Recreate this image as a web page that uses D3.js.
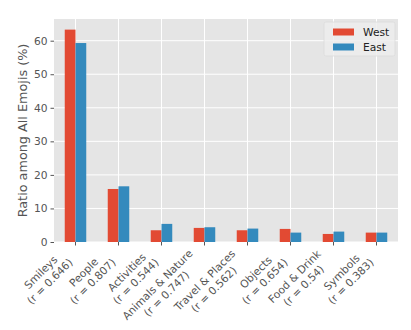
<html>

<head>
    <meta charset="utf-8">
    <style>
        body { margin: 0; background: #fff; }
        text { font-family: "DejaVu Sans", sans-serif; fill: #555; }
    </style>
</head>

<body>
    <script src="https://cdn.jsdelivr.net/npm/d3@7"></script>
    <script>
        var categories = ["Smileys", "People", "Activities", "Animals & Nature",
            "Travel & Places", "Objects", "Food & Drink", "Symbols"];
        var rValues = ["0.646", "0.807", "0.544", "0.747", "0.562", "0.654", "0.54", "0.383"];
        var seriesNames = ["West", "East"];
        var west = [63.3, 15.8, 3.5, 4.2, 3.5, 3.9, 2.4, 2.8];
        var east = [59.3, 16.6, 5.4, 4.4, 4.0, 2.8, 3.1, 2.8];
        var yTicks = [0, 10, 20, 30, 40, 50, 60];

        var width = 411,
            height = 330,
            margin = { top: 19, right: 13, bottom: 88, left: 54 },
            colors = ["#E24A33", "#348ABD"],
            tickFont = 10.7,
            labelFont = 12.8;

        var series = [west, east];

        var svg = d3.select("body").append("svg")
            .attr("width", width)
            .attr("height", height);

        var plotW = width - margin.left - margin.right,
            plotH = height - margin.top - margin.bottom;

        var g = svg.append("g")
            .attr("transform", "translate(" + margin.left + "," + margin.top + ")");

        // pandas-style bar layout: one slot per category, bars fill half the slot
        var x = d3.scaleBand()
            .domain(categories)
            .range([0, plotW]);

        var x1 = d3.scaleBand()
            .domain(seriesNames)
            .range([x.bandwidth() * 0.25, x.bandwidth() * 0.75]);

        var yMax = d3.max(west.concat(east)) * 1.05;
        var y = d3.scaleLinear()
            .domain([0, yMax])
            .range([plotH, 0]);

        g.append("rect")
            .attr("width", plotW)
            .attr("height", plotH)
            .attr("fill", "#E5E5E5");

        // grid
        g.selectAll(".hgrid")
            .data(yTicks)
            .enter().append("line")
            .attr("x1", 0)
            .attr("x2", plotW)
            .attr("y1", function(d) { return y(d); })
            .attr("y2", function(d) { return y(d); })
            .attr("stroke", "#fff")
            .attr("stroke-width", 1);

        g.selectAll(".vgrid")
            .data(categories)
            .enter().append("line")
            .attr("x1", function(d) { return x(d) + x.bandwidth() / 2; })
            .attr("x2", function(d) { return x(d) + x.bandwidth() / 2; })
            .attr("y1", 0)
            .attr("y2", plotH)
            .attr("stroke", "#fff")
            .attr("stroke-width", 1);

        // bars
        seriesNames.forEach(function(name, si) {
            g.selectAll(".bar-" + name)
                .data(series[si])
                .enter().append("rect")
                .attr("x", function(d, i) { return x(categories[i]) + x1(name); })
                .attr("y", function(d) { return y(d); })
                .attr("width", x1.bandwidth())
                .attr("height", function(d) { return plotH - y(d); })
                .attr("fill", colors[si]);
        });

        // y axis
        var yAxis = g.append("g")
            .call(d3.axisLeft(y).tickValues(yTicks).tickSize(3.5).tickPadding(3));
        yAxis.select(".domain").remove();
        yAxis.selectAll("line").attr("stroke", "#555");
        yAxis.selectAll("text")
            .style("font-size", tickFont + "px")
            .style("fill", "#555")
            .attr("font-family", "DejaVu Sans");

        // x ticks
        var xAxis = g.append("g")
            .attr("transform", "translate(0," + plotH + ")")
            .call(d3.axisBottom(x).tickSize(3.5).tickFormat(""));
        xAxis.select(".domain").remove();
        xAxis.selectAll("line").attr("stroke", "#555");

        // rotated two-line tick labels, right edge anchored at the tick
        var lineH = tickFont * 1.2;
        categories.forEach(function(c, i) {
            var cx = margin.left + x(c) + x.bandwidth() / 2,
                cy = margin.top + plotH + 5;
            var lg = svg.append("g");
            var t = lg.append("text")
                .attr("text-anchor", "middle")
                .style("font-size", tickFont + "px");
            t.append("tspan").attr("x", 0).attr("y", 0).text(c);
            t.append("tspan").attr("x", 0).attr("y", lineH).text("(r = " + rValues[i] + ")");
            var b = t.node().getBBox();
            var a = -Math.PI / 4,
                cos = Math.cos(a), sin = Math.sin(a);
            var corners = [[b.x, b.y], [b.x + b.width, b.y], [b.x, b.y + b.height], [b.x + b.width, b.y + b.height]]
                .map(function(p) { return [p[0] * cos - p[1] * sin, p[0] * sin + p[1] * cos]; });
            var maxX = d3.max(corners, function(p) { return p[0]; }),
                minY = d3.min(corners, function(p) { return p[1]; });
            t.attr("transform", "rotate(-45)");
            lg.attr("transform", "translate(" + (cx - maxX) + "," + (cy - minY) + ")");
        });

        // y label
        svg.append("text")
            .attr("transform", "translate(" + 26.5 + "," + (margin.top + plotH / 2) + ") rotate(-90)")
            .attr("text-anchor", "middle")
            .style("font-size", labelFont + "px")
            .text("Ratio among All Emojis (%)");

        // legend
        var legend = svg.append("g")
            .attr("transform", "translate(" + 324 + "," + 22 + ")");
        legend.append("rect")
            .attr("width", 71)
            .attr("height", 34)
            .attr("rx", 2)
            .attr("fill", "#eeeeee")
            .attr("fill-opacity", 0.8)
            .attr("stroke", "#dcdcdc")
            .attr("stroke-opacity", 0.8);
        seriesNames.forEach(function(name, i) {
            legend.append("rect")
                .attr("x", 9)
                .attr("y", 6.5 + i * 15)
                .attr("width", 21)
                .attr("height", 7)
                .attr("fill", colors[i]);
            legend.append("text")
                .attr("x", 39)
                .attr("y", 14 + i * 15)
                .style("font-size", tickFont + "px")
                .style("fill", "#222")
                .text(name);
        });
    </script>
</body>

</html>
